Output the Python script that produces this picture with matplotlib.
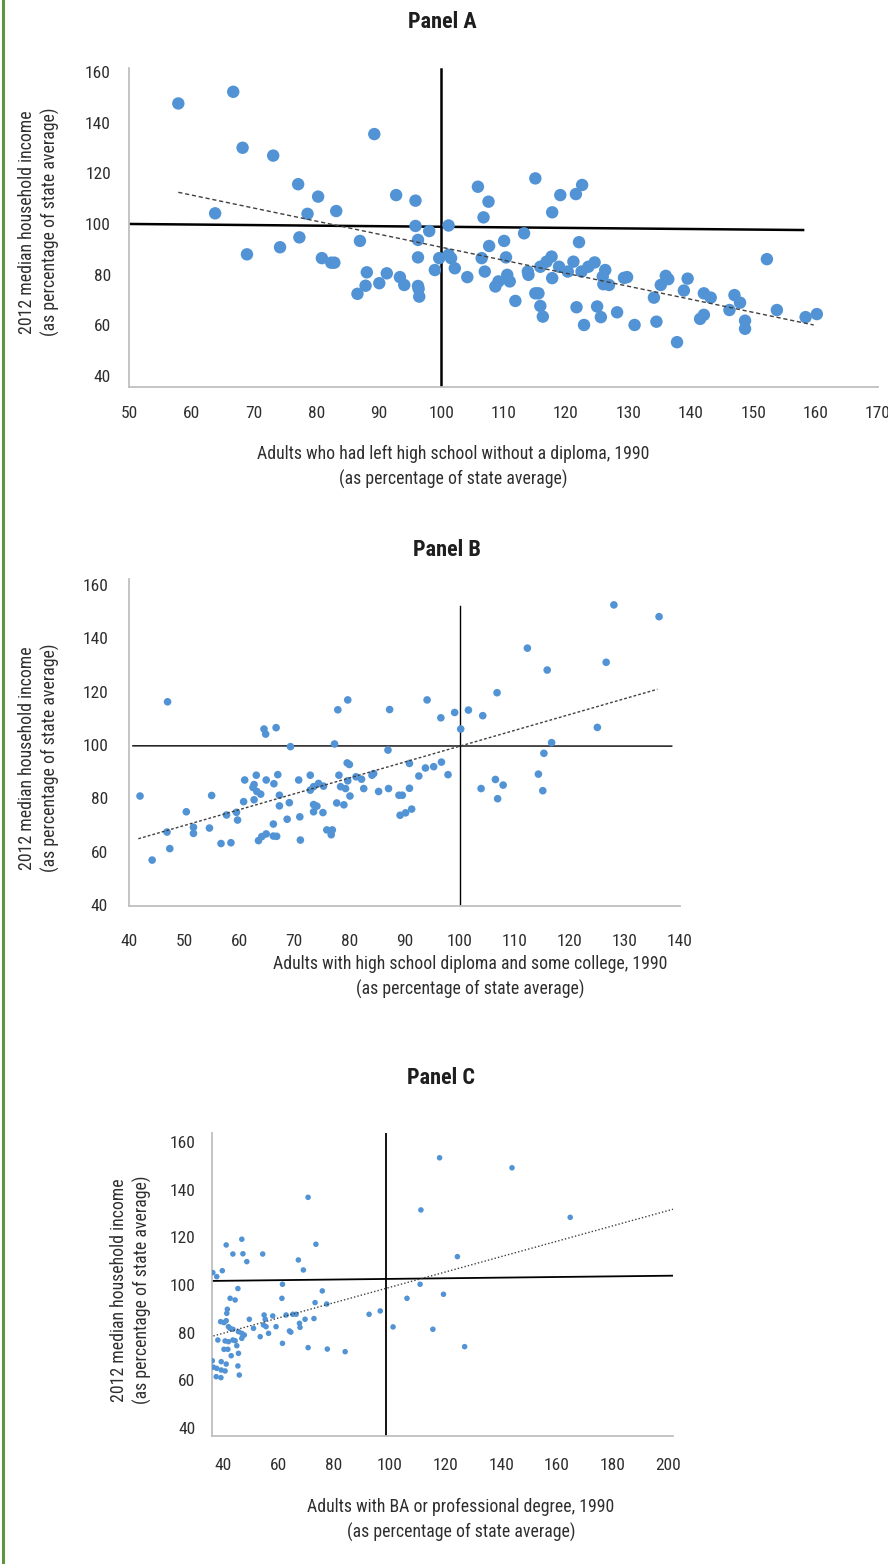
import numpy as np
import matplotlib
matplotlib.use("Agg")
import matplotlib.pyplot as plt

W, H = 888, 1564
plt.rcParams['font.family'] = ['Liberation Sans Narrow', 'Roboto Condensed', 'Open Sans Condensed',
                               'DejaVu Sans']
plt.rcParams['font.stretch'] = 'condensed'

# Panel A: adults who had left high school without a diploma, 1990
a_x = [57.9, 66.7, 68.2, 73.1, 89.3, 77.1, 80.3, 63.8, 78.6, 83.2, 92.8, 95.9, 95.9, 98.1,
       101.2, 96.3, 77.3, 74.2, 68.9, 87.0, 80.9, 82.4, 82.9, 88.1, 87.9, 86.6, 90.1, 91.3,
       93.4, 94.1, 96.3, 96.3, 96.4, 96.5, 99.0, 99.7, 101.2, 101.6, 102.2, 104.2, 105.9,
       107.6, 106.8, 107.7, 106.5, 107.0, 108.7, 109.2,
       110.1, 110.4, 110.6, 111.0, 111.9, 113.3, 113.9, 114.0, 115.1, 115.1, 115.6, 115.9,
       115.9, 116.3, 117.8, 117.8, 117.7, 116.9, 119.1, 118.9, 120.3, 121.2, 121.6, 122.6,
       122.1, 122.5, 121.7, 122.9, 123.6, 124.6, 125.0, 125.6, 126.3, 125.9, 126.9, 126.0,
       128.2, 129.3, 129.8, 131.0, 134.1, 134.5, 135.2, 136.0, 136.4, 137.8, 138.9, 139.5,
       141.5, 142.1, 142.1, 143.2, 146.2, 147.0, 147.9, 148.7, 148.7, 152.2, 153.8, 158.4,
       160.2]
a_y = [147.6, 152.2, 130.1, 127.0, 135.5, 115.7, 110.8, 104.2, 104.0, 105.1, 111.4, 109.2,
       99.2, 97.2, 99.4, 93.7, 94.7, 90.8, 88.0, 93.3, 86.5, 84.7, 84.7, 80.9, 75.6, 72.4,
       76.6, 80.5, 79.0, 75.9, 86.8, 75.5, 74.4, 71.3, 81.8, 86.5, 87.8, 86.5, 82.5, 79.0,
       114.7, 108.8, 102.6, 91.3, 86.5, 81.2, 75.3, 77.3,
       93.3, 86.8, 79.9, 77.3, 69.6, 96.3, 81.2, 79.9, 118.0, 72.6, 72.6, 83.1,
       67.6, 63.4, 104.6, 78.6, 87.1, 85.1, 111.4, 83.1, 81.2, 85.1, 111.8, 115.4,
       92.8, 81.2, 67.1, 60.1, 83.1, 84.8, 67.4, 63.2, 81.8, 79.2, 75.9, 76.2,
       65.1, 78.7, 79.0, 60.1, 70.9, 61.4, 75.9, 79.5, 78.2, 53.3, 73.7, 78.4,
       62.5, 64.1, 72.6, 70.9, 66.0, 71.9, 68.9, 61.8, 58.6, 86.1, 66.0, 63.2,
       64.4]
a_trend_x = [57.9, 159.7]
a_trend_y = [112.5, 60.1]
a_hline_x = [50, 158]
a_hline_y = [100.0, 97.6]
a_vline_x = [100, 100]
a_vline_y = [35.6, 161.2]

# Panel B: adults with high school diploma and some college, 1990
b_x = [42.0, 47.0, 44.2, 46.9, 47.4, 50.4, 51.7, 51.7, 54.6, 55.0, 56.7, 58.5, 57.7, 59.5,
       59.7, 60.8, 61.0, 62.7, 63.1, 62.5, 62.7, 63.2, 63.9, 64.5, 64.8, 66.7, 64.9, 66.3,
       67.0, 67.3, 67.3, 66.2, 63.5, 64.1, 64.9, 66.2, 66.8, 69.1, 68.7, 69.3, 70.8, 71.0,
       71.1, 72.9, 72.9, 73.5, 74.4, 75.3, 73.5, 74.1, 73.5, 75.2, 75.9, 76.9, 76.7, 77.3,
       77.9, 79.7, 78.1, 78.4, 79.3, 79.7, 80.1, 77.7, 79.0, 79.6, 80.0, 81.2, 82.2, 82.6,
       84.1, 84.4, 85.3, 87.0, 87.3, 87.1, 89.0, 89.6, 89.2, 90.2, 91.3, 90.9, 90.9, 92.6,
       93.8, 95.3, 96.7, 94.1, 96.6, 97.9, 99.1, 100.2, 101.6, 104.2, 103.9, 106.5, 106.8,
       106.9, 107.9, 112.3, 115.9, 114.3, 115.1, 115.3, 116.7, 125.0, 126.6, 128.0, 136.2]
b_y = [80.9, 116.2, 56.9, 67.4, 61.2, 75.0, 69.2, 66.9, 68.9, 81.1, 63.1, 63.4, 73.8, 74.8,
       71.9, 78.8, 86.9, 85.2, 88.7, 84.1, 79.5, 82.6, 81.6, 106.0, 104.1, 106.5, 86.9, 85.5,
       88.9, 81.2, 77.2, 70.4, 64.2, 65.7, 66.7, 65.9, 65.8, 78.4, 72.2, 99.4, 86.9, 73.1,
       64.4, 88.7, 83.1, 84.4, 85.6, 84.6, 77.7, 77.1, 75.0, 74.7, 68.2, 68.2, 66.4, 100.4,
       113.2, 116.9, 88.7, 84.4, 83.7, 86.6, 80.9, 78.3, 77.6, 93.3, 92.7, 88.1, 87.2, 83.7,
       88.7, 89.3, 82.6, 98.1, 113.3, 83.7, 81.2, 81.2, 73.7, 74.6, 76.0, 93.1, 83.8, 88.4,
       91.4, 91.9, 93.6, 116.9, 110.2, 88.9, 112.2, 106.0, 113.1, 111.0, 83.7, 87.1, 119.6,
       79.9, 85.0, 136.3, 128.1, 89.1, 82.9, 96.9, 100.9, 106.6, 131.0, 152.5, 148.1]
b_trend_x = [41.7, 135.9]
b_trend_y = [64.9, 120.9]
b_hline_x = [40.7, 138.5]
b_hline_y = [99.7, 99.6]
b_vline_x = [100, 100]
b_vline_y = [39.7, 151.9]

# Panel C: adults with BA or professional degree, 1990
c_x = [36.5, 37.9, 39.9, 41.3, 43.7, 46.9, 47.3, 48.7, 54.4, 45.5, 42.7, 44.5, 41.5, 41.7,
       39.3, 40.5, 41.3, 42.1, 42.7, 43.7, 45.7, 46.9, 47.8, 38.3, 40.9, 42.1, 43.7, 44.5,
       46.9, 45.1, 40.5, 41.9, 43.1, 45.7, 36.3, 39.5, 41.3, 36.7, 37.9, 39.5, 40.9, 45.5,
       46.0, 37.7, 39.4, 49.6, 51.1, 53.5, 54.9, 55.3, 54.7, 55.6, 56.5, 58.0, 59.2, 61.5,
       61.3, 61.5, 62.8, 64.0, 64.5, 65.2, 66.4, 67.2, 67.6, 67.8, 69.0, 69.6, 70.7, 70.7,
       72.8, 73.2, 73.5, 75.8, 77.4, 77.6, 84.0, 92.6, 96.6, 101.2, 106.2, 110.9, 111.2,
       115.5, 117.9, 119.3, 124.3, 126.9, 143.9, 164.8]
c_y = [105.2, 103.5, 106.0, 116.8, 113.0, 119.2, 113.1, 109.8, 113.0, 98.5, 94.4, 93.7,
       88.1, 89.8, 84.6, 84.2, 85.0, 82.5, 81.8, 81.4, 80.4, 79.7, 79.0, 76.9, 76.5, 76.2,
       76.9, 76.6, 77.6, 74.5, 73.0, 73.0, 70.3, 71.3, 68.2, 67.8, 66.8, 65.5, 65.0, 64.3,
       63.9, 66.0, 62.2, 61.5, 61.1, 85.6, 81.8, 78.3, 87.4, 85.6, 83.2, 82.5, 79.7, 87.0,
       82.5, 100.3, 94.4, 75.5, 87.4, 80.7, 80.2, 87.7, 87.7, 110.5, 83.9, 82.2, 106.3,
       85.6, 136.8, 73.7, 85.9, 92.6, 117.1, 97.5, 92.0, 73.1, 72.0, 87.7, 89.1, 82.4, 94.4,
       100.3, 131.5, 81.4, 153.4, 96.1, 111.9, 74.1, 149.2, 128.4]
c_trend_x = [36.7, 201.7]
c_trend_y = [78.6, 131.8]
c_hline_x = [36.2, 201.5]
c_hline_y = [101.7, 103.9]
c_vline_x = [98.5, 98.5]
c_vline_y = [36.6, 164.3]

y_ticks = [40, 60, 80, 100, 120, 140, 160]
ylab = "2012 median household income\n(as percentage of state average)"

BLUE = '#5193d4'
GRID = '#bfbfbf'
TXT = '#2e2e2e'
FS = 12.5   # tick labels
LFS = 12.8  # axis titles


def px(x0, y0, x1, y1):
    return [x0 / W, 1 - y1 / H, (x1 - x0) / W, (y1 - y0) / H]


fig = plt.figure(figsize=(W / 100, H / 100), dpi=100)

panels = [
    dict(rect=px(129, 68, 878, 387), xs=a_x, ys=a_y, s=80, xlim=(50, 170), ylim=(35.6, 161.6),
         xticks=range(50, 171, 10), tx=a_trend_x, ty=a_trend_y, tstyle=(0, (3, 2)),
         hx=a_hline_x, hy=a_hline_y, vx=a_vline_x, vy=a_vline_y, lw=1.8,
         xpad=14, ypad=13),
    dict(rect=px(129, 579, 680, 906), xs=b_x, ys=b_y, s=30, xlim=(40, 140), ylim=(39.7, 162.2),
         xticks=range(40, 141, 10), tx=b_trend_x, ty=b_trend_y, tstyle=(0, (2, 1.5)),
         hx=b_hline_x, hy=b_hline_y, vx=b_vline_x, vy=b_vline_y, lw=1.0,
         xpad=20, ypad=15),
    dict(rect=px(212, 1133, 673, 1436), xs=c_x, ys=c_y, s=16, xlim=(36.2, 201.7), ylim=(36.6, 163.8),
         xticks=range(40, 201, 20), tx=c_trend_x, ty=c_trend_y, tstyle=(0, (1, 1.5)),
         hx=c_hline_x, hy=c_hline_y, vx=c_vline_x, vy=c_vline_y, lw=1.3,
         xpad=16, ypad=12),
]

for p in panels:
    ax = fig.add_axes(p['rect'])
    ax.scatter(p['xs'], p['ys'], s=p['s'], color=BLUE, edgecolors='none', zorder=3)
    ax.plot(p['tx'], p['ty'], color='#404040', lw=1.0, linestyle=p['tstyle'], zorder=4)
    ax.plot(p['hx'], p['hy'], color='black', lw=p['lw'], zorder=2)
    ax.plot(p['vx'], p['vy'], color='black', lw=p['lw'], zorder=2)
    ax.set_xlim(*p['xlim'])
    ax.set_ylim(*p['ylim'])
    ax.set_xticks(list(p['xticks']))
    ax.set_yticks(y_ticks)
    for side in ['top', 'right']:
        ax.spines[side].set_visible(False)
    for side in ['left', 'bottom']:
        ax.spines[side].set_color(GRID)
        ax.spines[side].set_linewidth(1.3)
    ax.tick_params(axis='x', length=0, pad=p['xpad'], labelsize=FS, labelcolor=TXT)
    ax.tick_params(axis='y', length=0, pad=p['ypad'], labelsize=FS, labelcolor=TXT)
    ax.patch.set_alpha(0)

# titles
for tx_, ty_, t in [(442, 22, "Panel A"), (447, 550, "Panel B"), (441, 1078, "Panel C")]:
    fig.text(tx_ / W, 1 - ty_ / H, t, ha='center', va='center', fontsize=16,
             fontweight='bold', color='#1e1e1e')

# axis titles
fig.text(453 / W, 1 - 467 / H, "Adults who had left high school without a diploma, 1990\n(as percentage of state average)",
         ha='center', va='center', fontsize=LFS, color=TXT, linespacing=1.45)
fig.text(470 / W, 1 - 977 / H, "Adults with high school diploma and some college, 1990\n(as percentage of state average)",
         ha='center', va='center', fontsize=LFS, color=TXT, linespacing=1.45)
fig.text(461 / W, 1 - 1520 / H, "Adults with BA or professional degree, 1990\n(as percentage of state average)",
         ha='center', va='center', fontsize=LFS, color=TXT, linespacing=1.45)

fig.text(39 / W, 1 - 222 / H, ylab, ha='center', va='center', rotation=90, fontsize=LFS,
         color=TXT, linespacing=1.35)
fig.text(39 / W, 1 - 758 / H, ylab, ha='center', va='center', rotation=90, fontsize=LFS,
         color=TXT, linespacing=1.35)
fig.text(131 / W, 1 - 1290 / H, ylab, ha='center', va='center', rotation=90, fontsize=LFS,
         color=TXT, linespacing=1.35)

# green frame line on the left edge
fig.add_artist(plt.Line2D([3 / W, 3 / W], [0, 1], color='#5f9440', lw=2.2))

fig.savefig("out.png", dpi=100)
